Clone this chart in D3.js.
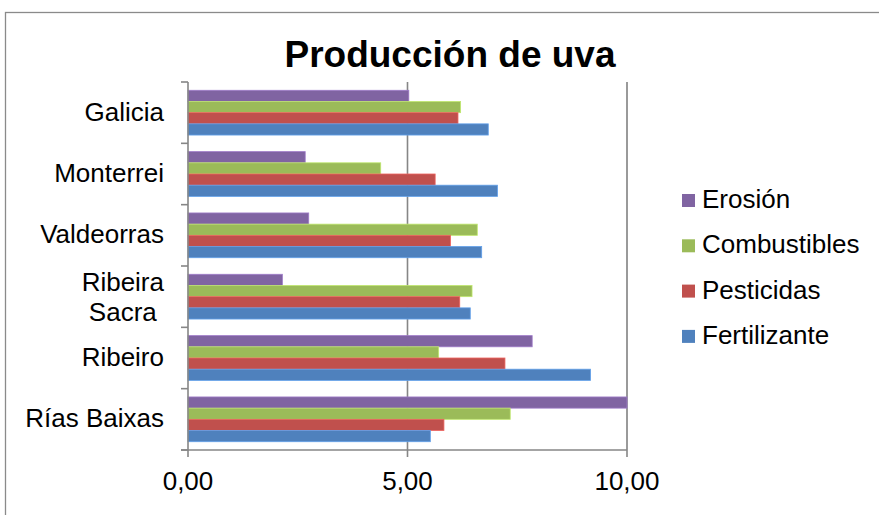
<!DOCTYPE html>
<html>
<head>
<meta charset="utf-8">
<script src="https://cdn.jsdelivr.net/npm/d3@7"></script>
<style>
  html, body { margin: 0; padding: 0; background: #fff; }
  svg { display: block; font-family: "Liberation Sans", Arial, sans-serif; }
</style>
</head>
<body>
<svg id="chart" width="879" height="515"></svg>
<script>
// Regions, top to bottom
const categories = ["Galicia", "Monterrei", "Valdeorras", "Ribeira Sacra", "Ribeiro", "Rías Baixas"];
// Series, listed in the order they stack inside each group (top to bottom)
const seriesNames = ["Erosión", "Combustibles", "Pesticidas", "Fertilizante"];
const erosion      = [5.03, 2.67, 2.75, 2.15, 7.84, 10.00];
const combustibles = [6.21, 4.39, 6.59, 6.47, 5.71, 7.34];
const pesticidas   = [6.15, 5.63, 5.98, 6.19, 7.22, 5.83];
const fertilizante = [6.84, 7.05, 6.69, 6.43, 9.17, 5.52];
const seriesColors = ["#8064A2", "#9BBB59", "#C0504D", "#4F81BD"];
const tickValues = [0, 5, 10];

const seriesValues = [erosion, combustibles, pesticidas, fertilizante];

const svg = d3.select("#chart");

// Outer chart frame
svg.append("rect")
  .attr("x", 5.5).attr("y", 12.5)
  .attr("width", 900).attr("height", 600)
  .attr("fill", "#fff").attr("stroke", "#8a8a8a").attr("stroke-width", 1.3);

const plot = { left: 188, right: 627, top: 82, bottom: 450 };

const x = d3.scaleLinear().domain([0, 10]).range([plot.left, plot.right]);
const y = d3.scaleBand().domain(categories).range([plot.top, plot.bottom]).padding(0);
const ySub = d3.scaleBand().domain(seriesNames).range([0, y.bandwidth()])
  .paddingInner(0).paddingOuter(0.74);

// Vertical gridlines
svg.append("g").selectAll("line")
  .data(tickValues.filter(d => d > 0))
  .join("line")
  .attr("x1", d => x(d)).attr("x2", d => x(d))
  .attr("y1", plot.top).attr("y2", plot.bottom)
  .attr("stroke", d => d === 10 ? "#9a9a9a" : "#868686")
  .attr("stroke-width", d => d === 10 ? 2 : 1.6);

// Bars
const groups = svg.append("g").selectAll("g")
  .data(categories)
  .join("g")
  .attr("transform", d => `translate(0,${y(d)})`);

groups.selectAll("rect")
  .data((c, i) => seriesNames.map((s, j) => ({ s, j, v: seriesValues[j][i] })))
  .join("rect")
  .attr("x", x(0))
  .attr("y", d => ySub(d.s))
  .attr("width", d => x(d.v) - x(0))
  .attr("height", ySub.bandwidth())
  .attr("fill", d => seriesColors[d.j])
  .attr("stroke", d => d3.color(seriesColors[d.j]).brighter(0.6))
  .attr("stroke-width", 0.8);

// Category axis (left)
const axisColor = "#868686";
const yAxis = svg.append("g");
yAxis.append("line")
  .attr("x1", plot.left).attr("x2", plot.left)
  .attr("y1", plot.top).attr("y2", plot.bottom)
  .attr("stroke", axisColor).attr("stroke-width", 1.6);
const boundaries = categories.map(c => y(c)).concat([plot.bottom]);
yAxis.selectAll("line.tick")
  .data(boundaries)
  .join("line")
  .attr("class", "tick")
  .attr("x1", plot.left - 7).attr("x2", plot.left)
  .attr("y1", d => d).attr("y2", d => d)
  .attr("stroke", axisColor).attr("stroke-width", 1.6);

// Category labels
const labelRight = 164;
categories.forEach(c => {
  const cy = y(c) + y.bandwidth() / 2;
  const words = c === "Ribeira Sacra" ? ["Ribeira", "Sacra"] : [c];
  if (words.length === 1) {
    svg.append("text")
      .attr("x", labelRight).attr("y", cy + 8)
      .attr("text-anchor", "end")
      .attr("font-size", 26).attr("fill", "#000")
      .text(c);
  } else {
    const first = svg.append("text")
      .attr("x", labelRight).attr("y", cy - 6)
      .attr("text-anchor", "end")
      .attr("font-size", 26).attr("fill", "#000")
      .text(words[0]);
    const w = first.node().getComputedTextLength();
    svg.append("text")
      .attr("x", labelRight - w / 2).attr("y", cy + 24)
      .attr("text-anchor", "middle")
      .attr("font-size", 26).attr("fill", "#000")
      .text(words[1]);
  }
});

// Value axis (bottom)
const fmt = d => d3.format(".2f")(d).replace(".", ",");
const xAxis = svg.append("g");
xAxis.append("line")
  .attr("x1", plot.left - 7).attr("x2", plot.right)
  .attr("y1", plot.bottom).attr("y2", plot.bottom)
  .attr("stroke", axisColor).attr("stroke-width", 1.6);
xAxis.selectAll("line.tick")
  .data(tickValues)
  .join("line")
  .attr("class", "tick")
  .attr("x1", d => x(d)).attr("x2", d => x(d))
  .attr("y1", plot.bottom).attr("y2", plot.bottom + 7)
  .attr("stroke", axisColor).attr("stroke-width", 1.6);
xAxis.selectAll("text")
  .data(tickValues)
  .join("text")
  .attr("x", d => x(d)).attr("y", 490)
  .attr("text-anchor", "middle")
  .attr("font-size", 26).attr("fill", "#000")
  .text(fmt);

// Title
svg.append("text")
  .attr("x", 450).attr("y", 67)
  .attr("text-anchor", "middle")
  .attr("font-size", 37).attr("font-weight", "bold").attr("fill", "#000")
  .text("Producción de uva");

// Legend
const legend = svg.append("g").selectAll("g")
  .data(seriesNames)
  .join("g")
  .attr("transform", (d, i) => `translate(682,${208 + i * 45.3})`);
legend.append("rect")
  .attr("x", 0).attr("y", -14)
  .attr("width", 13).attr("height", 13)
  .attr("fill", (d, i) => seriesColors[i]);
legend.append("text")
  .attr("x", 20).attr("y", 0)
  .attr("font-size", 26).attr("fill", "#000")
  .text(d => d);
</script>
</body>
</html>
